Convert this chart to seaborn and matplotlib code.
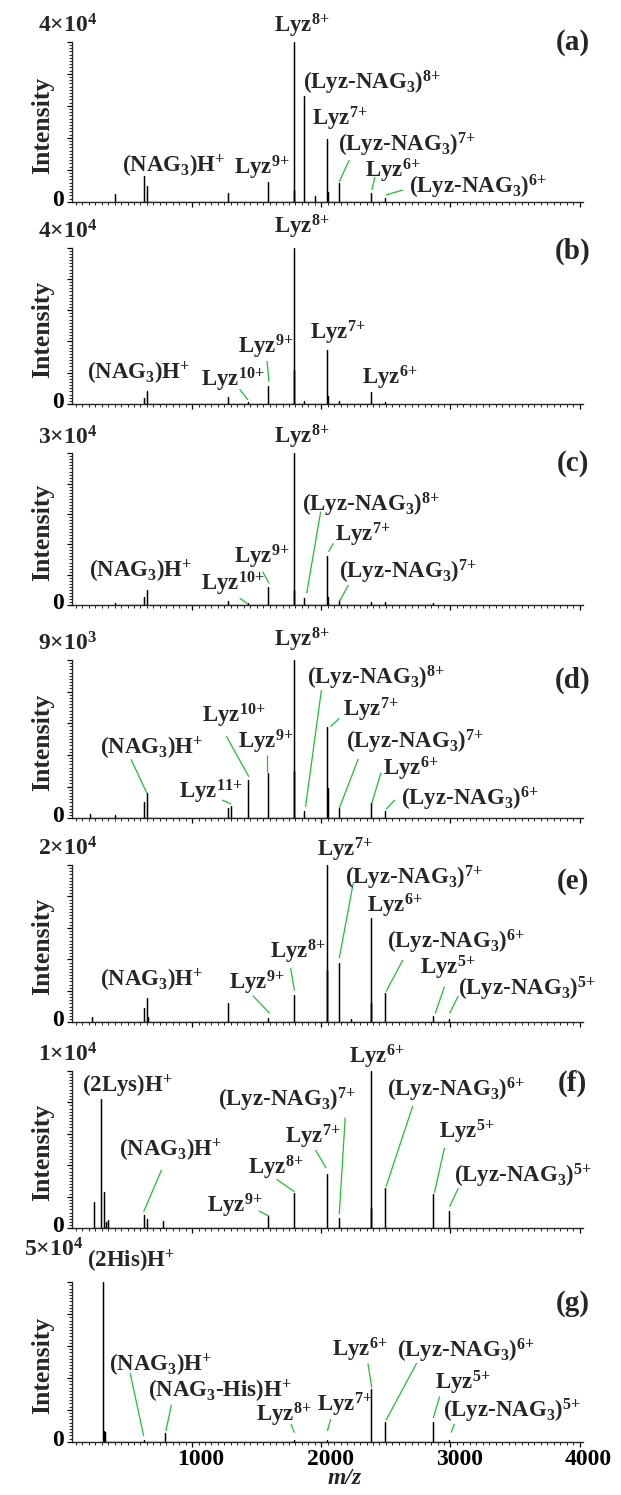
import numpy as np
import pandas as pd
import matplotlib
matplotlib.use("Agg")
import matplotlib.pyplot as plt
import seaborn as sns
from matplotlib.ticker import MultipleLocator, FixedLocator
from matplotlib.transforms import ScaledTranslation

# ---------------- data (m/z, intensity) ----------------
mz_a = [404, 628, 650, 1280, 1590, 1789, 1792, 1868, 1949, 2045, 2048, 2134, 2385, 2490]
int_a = [1900, 6400, 4000, 2100, 5000, 40000, 3000, 26400, 1500, 15600, 2500, 4750, 2250, 900]

mz_b = [628, 650, 1280, 1433, 1590, 1789, 1792, 1868, 2045, 2048, 2134, 2385, 2490]
int_b = [1450, 3400, 1700, 400, 4700, 40000, 8700, 800, 13800, 2000, 700, 3000, 600]

mz_c = [404, 628, 650, 1280, 1433, 1590, 1789, 1792, 1868, 2045, 2048, 2134, 2385, 2490, 2862]
int_c = [400, 1640, 2970, 700, 300, 3600, 30000, 3000, 1440, 9750, 1500, 900, 600, 500, 300]

mz_d = [213, 404, 628, 650, 1280, 1301, 1433, 1590, 1789, 1792, 1868, 2045, 2048, 2134, 2385, 2490]
int_d = [250, 200, 910, 1420, 600, 700, 2180, 2590, 9000, 2700, 415, 5200, 1700, 570, 850, 400]

mz_e = [229, 628, 650, 660, 1280, 1590, 1789, 2042, 2045, 2134, 2230, 2385, 2388, 2490, 2862, 2987]
int_e = [710, 1780, 3050, 700, 2490, 580, 3470, 6650, 20000, 7500, 400, 13200, 2500, 3690, 800, 400]

mz_f = [241, 293, 321, 330, 350, 628, 650, 772, 1590, 1789, 2045, 2134, 2385, 2388, 2490, 2862, 2987]
int_f = [1650, 8200, 2280, 400, 500, 840, 600, 460, 780, 2260, 3450, 630, 10000, 1300, 2580, 2180, 1120]

mz_g = [312, 318, 325, 628, 788, 1789, 2045, 2385, 2490, 2862, 2987]
int_g = [50000, 3400, 3000, 600, 2850, 400, 500, 16500, 6300, 6300, 600]

y_max = [4e4, 4e4, 3e4, 9e3, 2e4, 1e4, 5e4]
y_max_labels = [r"4×10$^{4}$", r"4×10$^{4}$", r"3×10$^{4}$", r"9×10$^{3}$",
                r"2×10$^{4}$", r"1×10$^{4}$", r"5×10$^{4}$"]
panel_letters = ["(a)", "(b)", "(c)", "(d)", "(e)", "(f)", "(g)"]
x_ticks = [1000, 2000, 3000, 4000]
x_tick_labels = ["1000", "2000", "3000", "4000"]

spectra = [(mz_a, int_a), (mz_b, int_b), (mz_c, int_c), (mz_d, int_d),
           (mz_e, int_e), (mz_f, int_f), (mz_g, int_g)]

# ---------------- label texts ----------------
def L(z):
    return r"Lyz$^{%s{+}}$" % z

def LN(z):
    return r"(Lyz-NAG$_{3}$)$^{%s{+}}$" % z

NAG = r"(NAG$_{3}$)H$^{{+}}$"
NAGHIS = r"(NAG$_{3}$-His)H$^{{+}}$"
LYS = r"(2Lys)H$^{{+}}$"
HIS = r"(2His)H$^{{+}}$"

# label layout: (text, x in m/z, y as fraction of y_max)
labels = [
    [(L("8"), 1847, 1.10), (LN("8"), 2391, 0.74), (L("7"), 2145, 0.52),
     (LN("7"), 2661, 0.355), (L("6"), 2555, 0.19), (LN("6"), 3215, 0.094),
     (NAG, 855, 0.219), (L("9"), 1540, 0.209)],
    [(L("8"), 1847, 1.134), (L("7"), 2127, 0.452), (L("9"), 1568, 0.363),
     (L("10"), 1316, 0.154), (NAG, 588, 0.196), (L("6"), 2529, 0.164)],
    [(L("8"), 1847, 1.11), (LN("8"), 2385, 0.66), (L("7"), 2323, 0.461),
     (LN("7"), 2667, 0.22), (L("9"), 1540, 0.318), (L("10"), 1316, 0.138),
     (NAG, 604, 0.22)],
    [(L("8"), 1847, 1.126), (LN("8"), 2422, 0.884), (L("7"), 2385, 0.684),
     (LN("7"), 2723, 0.485), (L("6"), 2692, 0.31), (LN("6"), 3150, 0.12),
     (L("10"), 1325, 0.645), (L("9"), 1568, 0.48), (L("11"), 1147, 0.168),
     (NAG, 686, 0.442)],
    [(L("7"), 2185, 1.095), (LN("7"), 2714, 0.915), (L("6"), 2569, 0.741),
     (LN("6"), 3045, 0.51), (L("5"), 2975, 0.345), (LN("5"), 3590, 0.215),
     (L("8"), 1817, 0.449), (L("9"), 1500, 0.248), (NAG, 686, 0.269)],
    [(L("6"), 2431, 1.089), (LYS, 502, 0.899), (LN("6"), 3045, 0.878),
     (LN("7"), 1731, 0.814), (L("7"), 1930, 0.581), (NAG, 834, 0.497),
     (L("8"), 1648, 0.385), (L("5"), 3128, 0.613), (LN("5"), 3558, 0.334),
     (L("9"), 1328, 0.143)],
    [(HIS, 527, 1.13), (NAG, 757, 0.478), (NAGHIS, 1218, 0.315),
     (L("8"), 1709, 0.165), (L("7"), 2185, 0.232), (L("6"), 2300, 0.573),
     (LN("6"), 3120, 0.569), (L("5"), 3091, 0.369), (LN("5"), 3475, 0.195)],
]

# leader lines: (x1, f1, x2, f2)
leaders = [
    [(2139, 0.125, 2216, 0.26), (2391, 0.073, 2416, 0.156), (2501, 0.042, 2631, 0.073)],
    [(1595, 0.143, 1580, 0.275), (1433, 0.026, 1368, 0.094)],
    [(1887, 0.077, 1995, 0.615), (2056, 0.351, 2093, 0.407), (2139, 0.022, 2210, 0.132),
     (1595, 0.143, 1546, 0.22), (1433, 0.007, 1368, 0.044)],
    [(650, 0.158, 527, 0.373), (1439, 0.263, 1264, 0.52), (1301, 0.09, 1233, 0.116),
     (1577, 0.294, 1577, 0.4), (1878, 0.073, 2001, 0.81), (2072, 0.579, 2139, 0.632),
     (2139, 0.063, 2286, 0.375), (2391, 0.095, 2462, 0.288), (2501, 0.057, 2569, 0.116)],
    [(1601, 0.057, 1470, 0.169), (1792, 0.201, 1762, 0.347), (2139, 0.407, 2247, 0.884),
     (2501, 0.195, 2631, 0.396), (2882, 0.057, 2953, 0.226), (2993, 0.057, 3060, 0.167)],
    [(625, 0.105, 763, 0.37), (1595, 0.078, 1516, 0.11), (1792, 0.232, 1654, 0.311),
     (2038, 0.381, 1955, 0.497), (2139, 0.089, 2185, 0.702), (2501, 0.264, 2708, 0.776),
     (2876, 0.226, 2953, 0.511), (2993, 0.137, 3060, 0.254)],
    [(625, 0.036, 521, 0.429), (797, 0.067, 840, 0.232), (1792, 0.057, 1765, 0.111),
     (2047, 0.067, 2072, 0.141), (2391, 0.338, 2361, 0.49), (2501, 0.135, 2738, 0.493),
     (2867, 0.148, 2916, 0.284), (3005, 0.057, 3030, 0.111)],
]
letter_y = [0.996, 0.974, 0.934, 0.874, 0.894, 0.92, 0.866]

# ---------------- style ----------------
sns.set_theme(style="ticks")
plt.rcParams["font.family"] = ["Liberation Serif", "DejaVu Serif"]
plt.rcParams["font.weight"] = "bold"
plt.rcParams["mathtext.default"] = "regular"
plt.rcParams["axes.linewidth"] = 1.0

W, H = 621, 1495
fig = plt.figure(figsize=(W / 100, H / 100), dpi=100)

left_px, right_px = 71.7, 583.3
tops = [41.7, 247.7, 453.3, 660, 865, 1070.7, 1282.3]
bottoms = [201.7, 404, 605, 818.3, 1022.3, 1228.3, 1441.7]
XMIN, XMAX = 68, 4028
FS = 16.5
GREEN = "#20c030"

scale_pos = [(-0.009, 1.10)] * 6 + [(-0.036, 1.204)]

for i, ((mz, inten), ymax) in enumerate(zip(spectra, y_max)):
    t, b = tops[i], bottoms[i]
    ax = fig.add_axes([left_px / W, 1 - b / H, (right_px - left_px) / W, (b - t) / H])
    mz = np.asarray(mz, float)
    inten = np.asarray(inten, float)
    xs = np.repeat(mz, 3)
    ys = np.column_stack([np.zeros_like(inten), inten, np.zeros_like(inten)]).ravel()
    df = pd.DataFrame({"mz": xs, "I": ys})
    sns.lineplot(data=df, x="mz", y="I", sort=False, estimator=None,
                 color="black", lw=0.9, ax=ax)
    ax.set_xlim(XMIN, XMAX)
    ax.set_ylim(0, ymax)
    for s in ["top", "right"]:
        ax.spines[s].set_visible(False)
    ax.xaxis.set_major_locator(FixedLocator(x_ticks))
    ax.xaxis.set_minor_locator(MultipleLocator(50))
    ax.yaxis.set_major_locator(FixedLocator(np.linspace(0, ymax, 6)))
    ax.yaxis.set_minor_locator(MultipleLocator(ymax / 50))
    ax.tick_params(axis="both", which="major", direction="out", length=3.5, width=0.9,
                   labelsize=17, pad=2, colors="black")
    ax.tick_params(axis="both", which="minor", direction="out", length=2, width=0.7)
    ax.set_yticklabels(["0"] + [""] * 5)
    ax.set_ylabel("Intensity", fontsize=18.5, fontweight="bold")
    ax.yaxis.label.set_verticalalignment("center")
    ax.yaxis.set_label_coords(-0.0567, 0.48)
    if i < 6:
        ax.set_xticklabels([])
        ax.set_xlabel("")
    else:
        ax.set_xticklabels(x_tick_labels)
        ax.set_xlabel("m/z", fontsize=17, fontweight="bold", style="italic")
        ax.xaxis.label.set_verticalalignment("center")
        ax.xaxis.set_label_coords(0.534, -0.23)
        for lab in ax.get_xticklabels():
            lab.set_transform(lab.get_transform() + ScaledTranslation(9 / 100, 0, fig.dpi_scale_trans))
    for lab in ax.get_yticklabels():
        lab.set_transform(lab.get_transform() + ScaledTranslation(0, 4 / 100, fig.dpi_scale_trans))

    # max-intensity label
    sx, sy = scale_pos[i]
    ax.text(sx, sy, y_max_labels[i], transform=ax.transAxes, ha="center", va="center",
            fontsize=17, fontweight="bold", clip_on=False)
    # panel letter
    ax.text(3945, letter_y[i] * ymax, panel_letters[i],
            ha="center", va="center", fontsize=21, fontweight="bold", clip_on=False)
    # annotations
    for (txt, x, f) in labels[i]:
        ax.text(x, f * ymax, txt, ha="center", va="center", fontsize=FS,
                fontweight="bold", clip_on=False, zorder=5)
    for (x1, f1, x2, f2) in leaders[i]:
        ax.plot([x1, x2], [f1 * ymax, f2 * ymax], color=GREEN, lw=0.9, clip_on=False,
                solid_capstyle="butt")

fig.savefig("out.png", dpi=100)
